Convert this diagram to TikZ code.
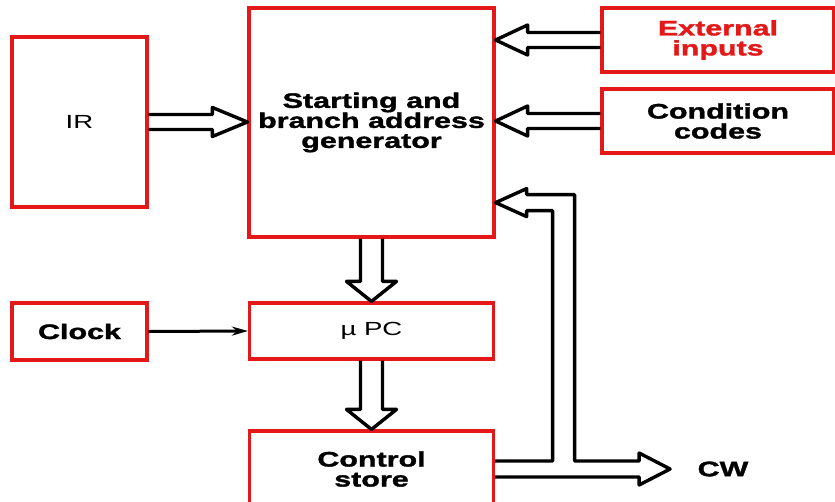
\documentclass[tikz,border=0pt]{standalone}
\usepackage{fontspec}
\setmainfont{Liberation Sans}[FakeStretch=1.45, BoldFeatures={FakeBold=1.6}]
\usetikzlibrary{positioning, arrows.meta, calc}
\definecolor{boxred}{RGB}{228,24,24}

\begin{document}
\begin{tikzpicture}[
  x=1pt, y=-1pt,
  font=\fontsize{21}{20}\selectfont\bfseries,
  blk/.style={draw=boxred, line width=3.2pt, fill=white,
              align=center, inner sep=2pt},
  plain/.style={font=\fontsize{19}{19}\selectfont},
  busline/.style={draw=black, line width=3.4pt, line join=round},
  busshaft/.code={\def\bw{#1}},
  bushead/.code 2 args={\def\hw{#1}\def\hl{#2}},
  bus/.style={busline, to path={
    ($(\tikztostart)!\bw!90:(\tikztotarget)$)
    -- ($(\tikztotarget)!\hl!(\tikztostart)!\bw!-90:(\tikztostart)$)
    -- ($(\tikztotarget)!\hl!(\tikztostart)!\hw!-90:(\tikztostart)$)
    -- (\tikztotarget)
    -- ($(\tikztotarget)!\hl!(\tikztostart)!\hw!90:(\tikztostart)$)
    -- ($(\tikztotarget)!\hl!(\tikztostart)!\bw!90:(\tikztostart)$)
    -- ($(\tikztostart)!\bw!-90:(\tikztotarget)$)}},
  clk/.style={draw=black, line width=3pt, -{Stealth[length=16pt, width=9pt]}},
]
\useasboundingbox (0,0) rectangle (835,501);

% ------------------- blocks -------------------
\node[blk, plain, minimum width=135pt, minimum height=170pt] (ir) at (79.5,122) {IR};
\node[blk, minimum width=245pt, minimum height=229pt] (sbag) at (371.5,122.5)
  {Starting and\\branch address\\generator};
\node[blk, text=boxred, minimum width=232pt, minimum height=64pt] (ext) at (718,40)
  {External\\inputs};
\node[blk, minimum width=232pt, minimum height=64pt] (cc) at (718,121)
  {Condition\\codes};
\node[blk, minimum width=135pt, minimum height=57pt] (clock) at (79.5,331.5) {Clock};
\node[blk, plain, minimum width=244pt, minimum height=56pt] (upc) at (371.5,331) {µ PC};
\node[blk, minimum width=244pt, minimum height=76pt] (cs) at (371.5,469)
  {Control\\store};

% ------------------- buses into the generator -------------------
\draw[bus, busshaft=7.5pt, bushead={14.5pt}{35pt}] (ir.east) to (ir.east -| sbag.west);
\draw[bus, busshaft=7.5pt, bushead={15pt}{32pt}] (ext.west) to (ext.west -| sbag.east);
\draw[bus, busshaft=7.5pt, bushead={15pt}{32pt}] (cc.west) to (cc.west -| sbag.east);

% ------------------- down the middle -------------------
\draw[bus, busshaft=11pt, bushead={25pt}{20pt}] (sbag.south) to (upc.north);
\draw[bus, busshaft=11pt, bushead={25pt}{20pt}] (upc.south) to (cs.north);
\draw[clk] (clock.east) -- (upc.west);

% ------------------- control word out, and back to the generator -------------------
\coordinate (fbtip) at ($(sbag.south east)+(0,-36)$);
\coordinate (cwtip) at ($(cs.east)+(175,0)$);
\node[right=24pt of cwtip] (cw) {CW};

\draw[busline] ($(cs.east)+(0,-8)$) -| ($(fbtip)+(57,8)$)
  -- ($(fbtip)+(31,8)$) -- ($(fbtip)+(31,14)$) -- (fbtip)
  -- ($(fbtip)+(31,-14)$) -- ($(fbtip)+(31,-8)$) -- ($(fbtip)+(79,-8)$)
  |- ($(cwtip)+(-31,-8)$) -- ($(cwtip)+(-31,-16)$) -- (cwtip)
  -- ($(cwtip)+(-31,16)$) -- ($(cwtip)+(-31,8)$) -- ($(cs.east)+(0,8)$);

\end{tikzpicture}
\end{document}
